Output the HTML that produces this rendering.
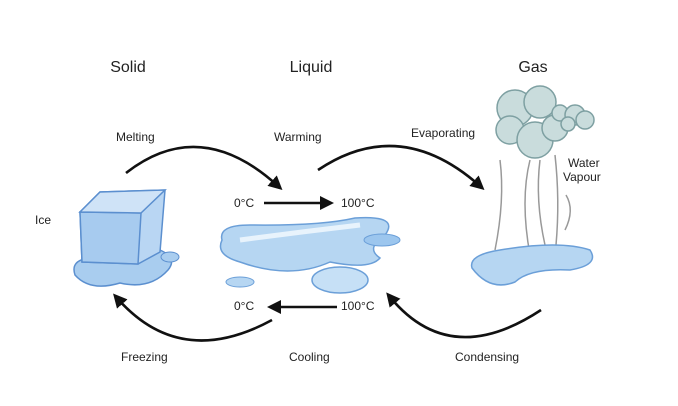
<!DOCTYPE html>
<html><head><style>
html,body{margin:0;padding:0;background:#fff;}
svg{display:block;font-family:"Liberation Sans",sans-serif;}
</style></head><body>
<svg width="678" height="406" viewBox="0 0 678 406" xmlns="http://www.w3.org/2000/svg">
<defs>
<marker id="ah2" markerWidth="14" markerHeight="14" refX="8" refY="7" orient="auto" markerUnits="userSpaceOnUse" viewBox="0 0 14 14">
<path d="M0,0 L14,7 L0,14 z" fill="#111"/></marker>
</defs>
<g font-size="16" fill="#222" text-anchor="middle">
<text x="128" y="72">Solid</text><text x="311" y="72">Liquid</text><text x="533" y="72">Gas</text>
</g>
<g font-size="12" fill="#222">
<text x="116" y="141">Melting</text><text x="274" y="141">Warming</text><text x="411" y="137">Evaporating</text>
<text x="568" y="167">Water</text><text x="563" y="181">Vapour</text>
<text x="35" y="224">Ice</text>
<text x="121" y="361">Freezing</text><text x="289" y="361">Cooling</text><text x="455" y="361">Condensing</text>
<text x="234" y="207">0°C</text><text x="341" y="207">100°C</text>
<text x="234" y="310">0°C</text><text x="341" y="310">100°C</text>
</g>
<g stroke="#111" stroke-width="2.6" fill="none">
<path d="M126,173 Q200,115 278,186" marker-end="url(#ah2)"/>
<path d="M318,170 Q400,115 480,186" marker-end="url(#ah2)"/>
<path d="M264,203 L328,203" marker-end="url(#ah2)"/>
<path d="M337,307 L273,307" marker-end="url(#ah2)"/>
<path d="M272,320 Q180,370 117,298" marker-end="url(#ah2)"/>
<path d="M541,310 Q450,370 390,297" marker-end="url(#ah2)"/>
</g>
<!-- ice -->
<path d="M75,275 Q70,260 90,258 L160,250 Q178,258 168,270 Q150,290 120,283 Q90,292 75,275z" fill="#a9cdef" stroke="#5b8fcf" stroke-width="1.5"/>
<path d="M80,212 L100,192 L165,190 L160,252 L138,264 L82,262z" fill="#b9d6f3" stroke="#5b8fcf" stroke-width="1.5"/>
<path d="M80,212 L141,213 L138,264 L82,262z" fill="#a7cbef" stroke="#5b8fcf" stroke-width="1.5"/>
<path d="M80,212 L100,192 L165,190 L141,213z" fill="#cfe3f7" stroke="#5b8fcf" stroke-width="1.5"/>
<ellipse cx="170" cy="257" rx="9" ry="5" fill="#a9cdef" stroke="#5b8fcf"/>
<!-- liquid puddle -->
<path d="M222,240 Q218,225 250,225 Q320,226 355,218 Q400,215 385,235 Q365,248 380,258 Q370,270 330,262 Q290,280 240,262 Q215,255 222,240z" fill="#b6d6f2" stroke="#6b9fd8" stroke-width="1.5"/>
<path d="M240,240 Q300,232 360,225" stroke="#e8f3fc" stroke-width="5" fill="none"/>
<ellipse cx="340" cy="280" rx="28" ry="13" fill="#c6e0f6" stroke="#6b9fd8" stroke-width="1.5"/>
<ellipse cx="382" cy="240" rx="18" ry="6" fill="#9cc6ee" stroke="#6b9fd8"/>
<ellipse cx="240" cy="282" rx="14" ry="5" fill="#b6d6f2" stroke="#6b9fd8"/>
<!-- gas -->
<g stroke="#999" stroke-width="1.5" fill="none">
<path d="M495,250 Q505,200 500,160"/><path d="M530,255 Q520,200 530,160"/><path d="M545,245 Q535,200 540,160"/><path d="M556,245 Q560,200 555,155"/><path d="M565,230 Q575,210 566,195"/>
</g>
<path d="M472,268 Q468,255 500,250 Q560,240 590,250 Q600,265 570,270 Q530,268 515,282 Q490,292 472,268z" fill="#b6d6f2" stroke="#6b9fd8" stroke-width="1.5"/>
<g fill="#c9dcdc" stroke="#7ea0a2" stroke-width="1.5">
<circle cx="515" cy="108" r="18"/><circle cx="540" cy="102" r="16"/><circle cx="510" cy="130" r="14"/><circle cx="535" cy="140" r="18"/><circle cx="555" cy="128" r="13"/>
<circle cx="560" cy="113" r="8"/><circle cx="575" cy="115" r="10"/><circle cx="585" cy="120" r="9"/><circle cx="568" cy="124" r="7"/>
</g>
</svg>
</body></html>
